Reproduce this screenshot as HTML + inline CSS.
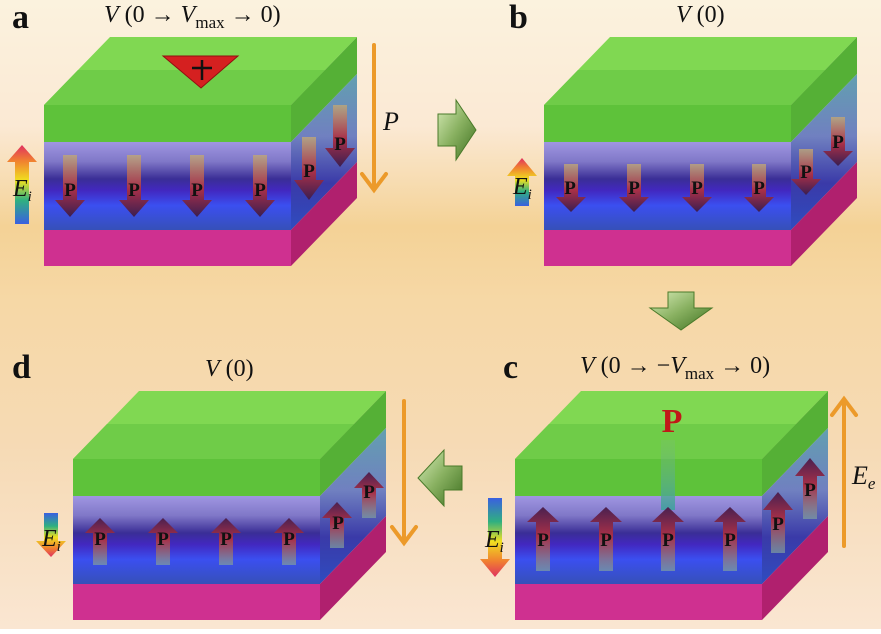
<!DOCTYPE html>
<html><head><meta charset="utf-8"><style>html,body{margin:0;padding:0;}body{width:881px;height:629px;overflow:hidden;}</style></head>
<body>
<svg width="881" height="629" viewBox="0 0 881 629" xmlns="http://www.w3.org/2000/svg" font-family="Liberation Serif, serif">
<defs>
<linearGradient id="bg" x1="0" y1="0" x2="0" y2="1">
<stop offset="0" stop-color="#fbf2de"/><stop offset="0.2" stop-color="#fbe9d4"/><stop offset="0.36" stop-color="#f4d296"/><stop offset="0.48" stop-color="#f6d8a6"/><stop offset="0.7" stop-color="#f6dab4"/><stop offset="1" stop-color="#fae6d2"/>
</linearGradient>
<linearGradient id="blueF" x1="0" y1="0" x2="0" y2="1">
<stop offset="0" stop-color="#a096e2"/><stop offset="0.22" stop-color="#8078c8"/><stop offset="0.42" stop-color="#3a2e96"/><stop offset="0.55" stop-color="#4228c0"/><stop offset="0.72" stop-color="#3b4ff0"/><stop offset="1" stop-color="#3650b8"/>
</linearGradient>
<linearGradient id="blueR" x1="0" y1="0" x2="0" y2="1">
<stop offset="0" stop-color="#62a0b0"/><stop offset="0.4" stop-color="#7080c0"/><stop offset="0.7" stop-color="#3a3aa8"/><stop offset="1" stop-color="#2f4cc0"/>
</linearGradient>
<linearGradient id="dn" x1="0" y1="0" x2="0" y2="1">
<stop offset="0" stop-color="#c0a878" stop-opacity="0.8"/><stop offset="0.55" stop-color="#a83048"/><stop offset="1" stop-color="#3a1e50"/>
</linearGradient>
<linearGradient id="up" x1="0" y1="1" x2="0" y2="0">
<stop offset="0" stop-color="#80a0a0" stop-opacity="0.7"/><stop offset="0.55" stop-color="#a83048"/><stop offset="1" stop-color="#4a2050"/>
</linearGradient>
<linearGradient id="rainUp" x1="0" y1="1" x2="0" y2="0">
<stop offset="0" stop-color="#3a60e0"/><stop offset="0.3" stop-color="#30b080"/><stop offset="0.55" stop-color="#f0e020"/><stop offset="0.8" stop-color="#f08030"/><stop offset="1" stop-color="#e03060"/>
</linearGradient>
<linearGradient id="rainDn" x1="0" y1="0" x2="0" y2="1">
<stop offset="0" stop-color="#3a60e0"/><stop offset="0.3" stop-color="#30b080"/><stop offset="0.55" stop-color="#f0e020"/><stop offset="0.8" stop-color="#f08030"/><stop offset="1" stop-color="#e03060"/>
</linearGradient>
<linearGradient id="garr" x1="0" y1="0" x2="1" y2="1">
<stop offset="0" stop-color="#d8ecb8"/><stop offset="0.5" stop-color="#88b060"/><stop offset="1" stop-color="#3e7020"/>
</linearGradient>
<linearGradient id="pshaft" x1="0" y1="0" x2="0" y2="1">
<stop offset="0" stop-color="#7cc070" stop-opacity="0.3"/><stop offset="1" stop-color="#40a0a0" stop-opacity="0.9"/>
</linearGradient>
<g id="box">
<polygon points="0,0 66,-68 313,-68 247,0" fill="#80d852"/>
<polygon points="0,0 34,-35 281,-35 247,0" fill="#6fcc48"/>
<rect x="0" y="0" width="247" height="37" fill="#5ec23a"/>
<rect x="0" y="37" width="247" height="88" fill="url(#blueF)"/>
<rect x="0" y="125" width="247" height="36" fill="#cf3090"/>
<polygon points="247,0 313,-68 313,-31 247,37" fill="#55b036"/>
<polygon points="247,37 313,-31 313,57 247,125" fill="url(#blueR)"/>
<polygon points="247,125 313,57 313,93 247,161" fill="#b0206e"/>
</g>
</defs>
<rect width="881" height="629" fill="url(#bg)"/>

<use href="#box" transform="translate(44,105)"/>
<use href="#box" transform="translate(544,105)"/>
<use href="#box" transform="translate(73,459)"/>
<use href="#box" transform="translate(515,459)"/>

<g font-weight="bold" font-size="34" fill="#111">
<text x="12" y="28">a</text><text x="509" y="28">b</text><text x="503" y="378">c</text><text x="12" y="378">d</text>
</g>
<g font-size="24" fill="#111">
<text x="104" y="22"><tspan font-style="italic">V</tspan> (0 → <tspan font-style="italic">V</tspan><tspan font-size="17" dy="6">max</tspan><tspan dy="-6"> → 0)</tspan></text>
<text x="676" y="22"><tspan font-style="italic">V</tspan> (0)</text>
<text x="205" y="376"><tspan font-style="italic">V</tspan> (0)</text>
<text x="580" y="373"><tspan font-style="italic">V</tspan> (0 → −<tspan font-style="italic">V</tspan><tspan font-size="17" dy="6">max</tspan><tspan dy="-6"> → 0)</tspan></text>
</g>

<polygon points="163,56 238,56 201,88" fill="#d52020" stroke="#901010" stroke-width="1"/>
<path d="M202,60 V80 M192,68 H212" stroke="#111" stroke-width="2.5"/>

<g font-weight="bold" font-size="19" fill="#111" text-anchor="middle">
<g fill="url(#dn)">
<path d="M63,155 h14 v45 h8 l-15,17 l-15,-17 h8z"/>
<path d="M127,155 h14 v45 h8 l-15,17 l-15,-17 h8z"/>
<path d="M190,155 h14 v45 h8 l-15,17 l-15,-17 h8z"/>
<path d="M253,155 h14 v45 h8 l-15,17 l-15,-17 h8z"/>
<path d="M302,137 h14 v43 h8 l-15,20 l-15,-20 h8z"/>
<path d="M333,105 h14 v43 h8 l-15,19 l-15,-19 h8z"/>
</g>
<text x="70" y="196">P</text><text x="134" y="196">P</text><text x="197" y="196">P</text><text x="260" y="196">P</text><text x="309" y="177">P</text><text x="340" y="150">P</text>

<g fill="url(#dn)">
<path d="M564,164 h14 v33 h8 l-15,15 l-15,-15 h8z"/>
<path d="M627,164 h14 v33 h8 l-15,15 l-15,-15 h8z"/>
<path d="M690,164 h14 v33 h8 l-15,15 l-15,-15 h8z"/>
<path d="M752,164 h14 v33 h8 l-15,15 l-15,-15 h8z"/>
<path d="M799,149 h14 v30 h8 l-15,16 l-15,-16 h8z"/>
<path d="M831,117 h14 v34 h8 l-15,15 l-15,-15 h8z"/>
</g>
<text x="570" y="194">P</text><text x="634" y="194">P</text><text x="697" y="194">P</text><text x="759" y="194">P</text><text x="806" y="178">P</text><text x="838" y="148">P</text>

<g fill="url(#up)">
<path d="M93,565 h14 v-32 h8 l-15,-15 l-15,15 h8z"/>
<path d="M156,565 h14 v-32 h8 l-15,-15 l-15,15 h8z"/>
<path d="M219,565 h14 v-32 h8 l-15,-15 l-15,15 h8z"/>
<path d="M282,565 h14 v-32 h8 l-15,-15 l-15,15 h8z"/>
<path d="M330,548 h14 v-30 h8 l-15,-16 l-15,16 h8z"/>
<path d="M362,518 h14 v-30 h8 l-15,-16 l-15,16 h8z"/>
</g>
<text x="100" y="545">P</text><text x="163" y="545">P</text><text x="226" y="545">P</text><text x="289" y="545">P</text><text x="338" y="529">P</text><text x="369" y="498">P</text>

<rect x="661" y="440" width="14" height="70" fill="url(#pshaft)"/>
<g fill="url(#up)">
<path d="M536,571 h14 v-49 h9 l-16,-15 l-16,15 h9z"/>
<path d="M599,571 h14 v-49 h9 l-16,-15 l-16,15 h9z"/>
<path d="M661,571 h14 v-49 h9 l-16,-15 l-16,15 h9z"/>
<path d="M723,571 h14 v-49 h9 l-16,-15 l-16,15 h9z"/>
<path d="M771,553 h14 v-43 h8 l-15,-18 l-15,18 h8z"/>
<path d="M803,519 h14 v-43 h8 l-15,-18 l-15,18 h8z"/>
</g>
<text x="543" y="546">P</text><text x="606" y="546">P</text><text x="668" y="546">P</text><text x="730" y="546">P</text><text x="778" y="530">P</text><text x="810" y="496">P</text>
<text x="672" y="432" font-size="34" fill="#c01818">P</text>
</g>

<path d="M15,224 h14 v-62 h8 l-15,-17 l-15,17 h8z" fill="url(#rainUp)"/>
<path d="M515,206 h14 v-30 h8 l-15,-18 l-15,18 h8z" fill="url(#rainUp)"/>
<path d="M488,498 h14 v61 h8 l-15,18 l-15,-18 h8z" fill="url(#rainDn)"/>
<path d="M44,513 h14 v28 h8 l-15,16 l-15,-16 h8z" fill="url(#rainDn)"/>
<g font-style="italic" font-size="24" fill="#111">
<text x="13" y="196">E<tspan font-size="15" dy="5">i</tspan></text>
<text x="513" y="194">E<tspan font-size="15" dy="5">i</tspan></text>
<text x="485" y="547">E<tspan font-size="15" dy="5">i</tspan></text>
<text x="42" y="546">E<tspan font-size="15" dy="5">i</tspan></text>
<text x="383" y="130" font-size="26">P</text>
<text x="852" y="484" font-size="26">E<tspan font-size="17" dy="5">e</tspan></text>
</g>

<g stroke="#ec9a2a" stroke-width="4" fill="none" stroke-linecap="round">
<path d="M374,45 V190 M362,174 L374,190 L386,174"/>
<path d="M404,401 V543 M392,527 L404,543 L416,527"/>
<path d="M844,546 V399 M832,415 L844,399 L856,415"/>
</g>

<path d="M438,114 h18 v-14 l20,30 l-20,30 v-14 h-18z" fill="url(#garr)" stroke="#4a7a2a" stroke-width="1"/>
<path d="M668,292 h26 v16 h18 l-31,22 l-31,-22 h18z" fill="url(#garr)" stroke="#4a7a2a" stroke-width="1"/>
<path d="M462,466 h-18 v-16 l-26,28 l26,28 v-16 h18z" fill="url(#garr)" stroke="#4a7a2a" stroke-width="1"/>
</svg>
</body></html>
